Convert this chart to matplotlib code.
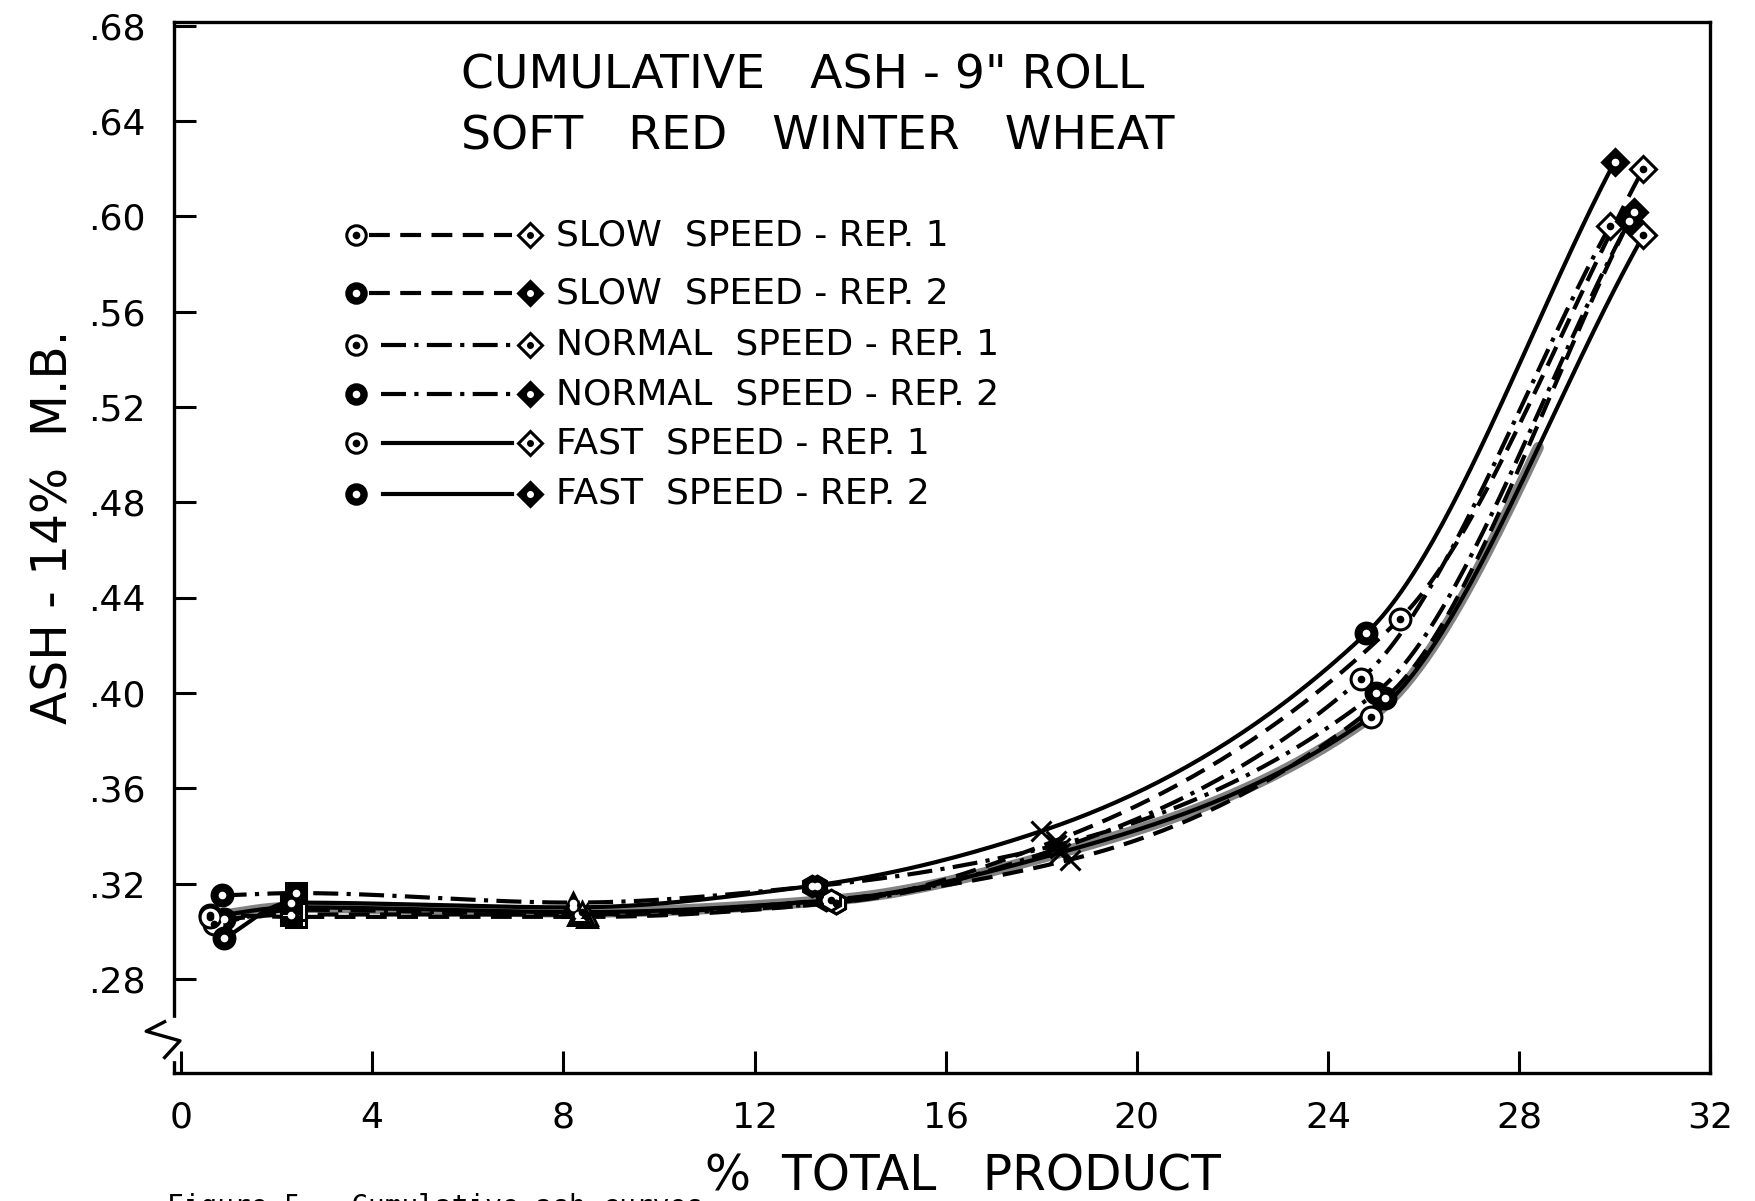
import matplotlib
matplotlib.use("Agg")
import matplotlib.pyplot as plt
import numpy as np

# Data: % total product vs cumulative ash (14% m.b.)
slow1_x = [0.6, 2.4, 8.5, 13.7, 18.3, 25.5, 30.6]
slow1_y = [0.307, 0.306, 0.306, 0.312, 0.338, 0.431, 0.620]
slow2_x = [0.9, 2.3, 8.3, 13.5, 18.6, 25.2, 30.4]
slow2_y = [0.305, 0.307, 0.307, 0.313, 0.330, 0.398, 0.602]
normal1_x = [0.7, 2.4, 8.5, 13.7, 18.4, 24.7, 29.9]
normal1_y = [0.303, 0.309, 0.307, 0.312, 0.335, 0.406, 0.596]
normal2_x = [0.85, 2.4, 8.2, 13.3, 18.3, 25.0, 30.3]
normal2_y = [0.315, 0.316, 0.312, 0.319, 0.336, 0.400, 0.598]
fast1_x = [0.6, 2.3, 8.4, 13.6, 18.4, 24.9, 30.6]
fast1_y = [0.306, 0.310, 0.308, 0.313, 0.333, 0.390, 0.592]
fast2_x = [0.9, 2.3, 8.2, 13.2, 18.0, 24.8, 30.0]
fast2_y = [0.297, 0.312, 0.310, 0.319, 0.342, 0.425, 0.623]

labels = ['SLOW  SPEED - REP. 1', 'SLOW  SPEED - REP. 2',
          'NORMAL  SPEED - REP. 1', 'NORMAL  SPEED - REP. 2',
          'FAST  SPEED - REP. 1', 'FAST  SPEED - REP. 2']
x_ticks = [0, 4, 8, 12, 16, 20, 24, 28, 32]
y_ticks = [0.28, 0.32, 0.36, 0.40, 0.44, 0.48, 0.52, 0.56, 0.60, 0.64, 0.68]

series = [(slow1_x, slow1_y), (slow2_x, slow2_y), (normal1_x, normal1_y),
          (normal2_x, normal2_y), (fast1_x, fast1_y), (fast2_x, fast2_y)]
styles = [(0, (5, 2.5)), (0, (5, 2.5)), (0, (6, 2, 1, 2)), (0, (6, 2, 1, 2)), '-', '-']
filled = [False, True, False, True, False, True]
point_markers = ['o', 's', '^', 'h', 'x', 'o', 'D']

plt.rcParams['font.family'] = ['DejaVu Sans']


def pchip(x, y, xs):
    # monotone cubic, only used to draw the hand-drawn style curve between points
    x = np.asarray(x, float)
    y = np.asarray(y, float)
    h = np.diff(x)
    d = np.diff(y) / h
    m = np.zeros_like(y)
    for k in range(1, len(x) - 1):
        if d[k - 1] * d[k] > 0:
            w1 = 2 * h[k] + h[k - 1]
            w2 = h[k] + 2 * h[k - 1]
            m[k] = (w1 + w2) / (w1 / d[k - 1] + w2 / d[k])
    m[0] = d[0]
    m[-1] = d[-1]
    idx = np.clip(np.searchsorted(x, xs) - 1, 0, len(x) - 2)
    t = (xs - x[idx]) / h[idx]
    h00 = 2 * t**3 - 3 * t**2 + 1
    h10 = t**3 - 2 * t**2 + t
    h01 = -2 * t**3 + 3 * t**2
    h11 = t**3 - t**2
    return h00 * y[idx] + h10 * h[idx] * m[idx] + h01 * y[idx + 1] + h11 * h[idx] * m[idx + 1]


fig = plt.figure(figsize=(17.56, 12.01), dpi=100)
ax = fig.add_axes([0.099, 0.1066, 0.875, 0.875])

# grey smudged band seen along the lower curves
xs = np.linspace(fast1_x[0], fast1_x[-2] + 3.5, 200)
ax.plot(xs, pchip(fast1_x, fast1_y, xs), color='#5a5a5a', lw=8, alpha=0.75,
        solid_capstyle='round', zorder=1)

for (sx, sy), ls, fil in zip(series, styles, filled):
    xs = np.linspace(sx[0], sx[-1], 300)
    ax.plot(xs, pchip(sx, sy, xs), color='black', lw=3, linestyle=ls, zorder=2)
    for px, py, mk in zip(sx, sy, point_markers):
        if mk == 'x':
            ax.plot(px, py, marker='x', color='black', ms=14, mew=2.2, zorder=3)
        else:
            ax.plot(px, py, marker=mk, ms=15 if mk != 'D' else 13,
                    mfc='black' if fil else 'white', mec='black', mew=2.2,
                    ls='none', zorder=3)
            ax.plot(px, py, marker='o', ms=4.5, color='white' if fil else 'black',
                    ls='none', zorder=4)

ax.set_xlim(-0.15, 32)
ax.set_ylim(0.2405, 0.6815)
ax.set_xticks(x_ticks)
ax.set_xticklabels([str(t) for t in x_ticks])
ax.set_yticks(y_ticks)
ax.set_yticklabels([('%.2f' % t)[1:] for t in y_ticks])
ax.tick_params(direction='in', length=16, width=2.2, labelsize=26, pad=20)
for s in ax.spines.values():
    s.set_linewidth(2.4)

# y-axis break near the bottom
ax.plot([0, 0], [0.247, 0.262], color='white', lw=6, transform=ax.get_yaxis_transform(),
        clip_on=False, zorder=5)
ax.plot([-0.006, -0.018, 0.004, -0.006], [0.262, 0.258, 0.254, 0.247], color='black', lw=2.4,
        transform=ax.get_yaxis_transform(), clip_on=False, zorder=6)

# title inside the plot
ax.text(0.187, 0.949, 'CUMULATIVE   ASH - 9" ROLL', transform=ax.transAxes,
        fontsize=34, ha='left', va='center')
ax.text(0.187, 0.891, 'SOFT   RED   WINTER   WHEAT', transform=ax.transAxes,
        fontsize=34, ha='left', va='center')

# hand-drawn style key
rows = [0.797, 0.742, 0.693, 0.646, 0.599, 0.551]
line_start = [0.127, 0.127, 0.135, 0.135, 0.136, 0.136]
for yy, ls, fil, lab, x0 in zip(rows, styles, filled, labels, line_start):
    ax.plot([x0, 0.220], [yy, yy], color='black', lw=3, linestyle=ls, transform=ax.transAxes)
    ax.plot(0.1187, yy, marker='o', ms=14, mfc='black' if fil else 'white', mec='black',
            mew=2.2, transform=ax.transAxes)
    ax.plot(0.1187, yy, marker='o', ms=4.5, color='white' if fil else 'black',
            transform=ax.transAxes)
    ax.plot(0.2316, yy, marker='D', ms=12, mfc='black' if fil else 'white', mec='black',
            mew=2.2, transform=ax.transAxes)
    ax.plot(0.2316, yy, marker='o', ms=4, color='white' if fil else 'black',
            transform=ax.transAxes)
    ax.text(0.249, yy, lab, transform=ax.transAxes, fontsize=26, ha='left', va='center')

fig.text(0.0306, 0.5617, 'ASH - 14%  M.B.', rotation=90, fontsize=35, ha='center', va='center')
fig.text(0.5485, 0.0208, '%  TOTAL   PRODUCT', fontsize=35, ha='center', va='center')
fig.text(0.095, 0.0067, 'Figure 5.  Cumulative ash curves', fontsize=20,
         family='DejaVu Sans Mono', ha='left', va='top')

fig.savefig('out.png', dpi=100)
